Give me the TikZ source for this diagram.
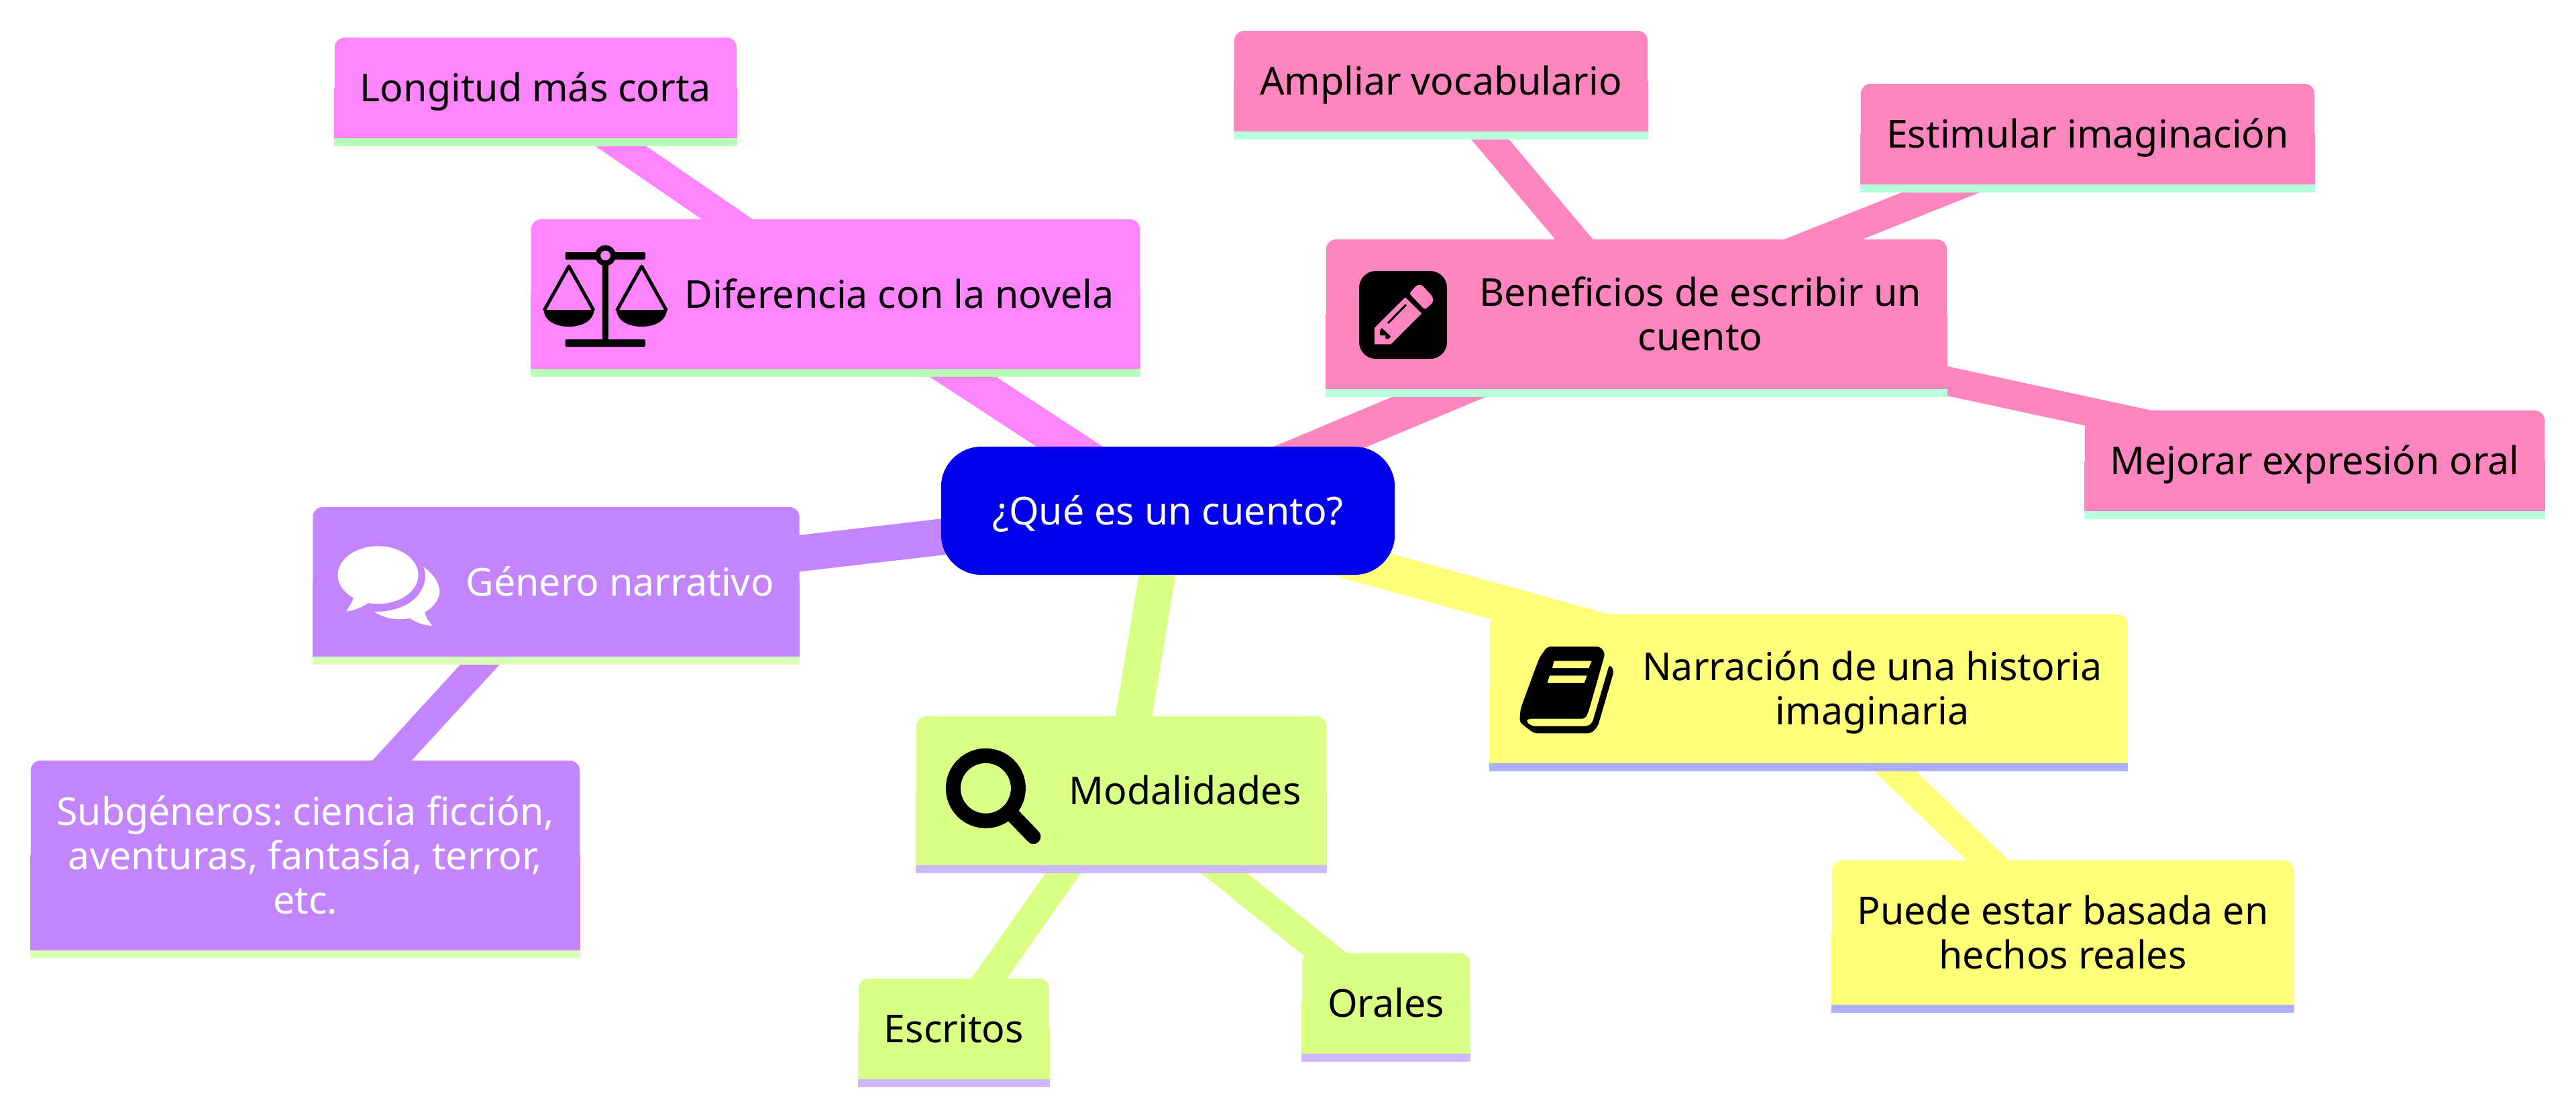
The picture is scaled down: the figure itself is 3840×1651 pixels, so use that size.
\documentclass[tikz,border=0pt]{standalone}
\usepackage{fontspec}
\setmainfont{Noto Sans}
\usetikzlibrary{backgrounds}
\frenchspacing

\definecolor{rootblue}{HTML}{0000EB}
\definecolor{difpink}{HTML}{FF85FF}
\definecolor{benrose}{HTML}{FF85BF}
\definecolor{genviolet}{HTML}{C285FF}
\definecolor{modlime}{HTML}{D9FF85}
\definecolor{naryellow}{HTML}{FFFF78}
\definecolor{difband}{HTML}{B8FFB8}
\definecolor{benband}{HTML}{B8FFDC}
\definecolor{genband}{HTML}{DCFFB8}
\definecolor{modband}{HTML}{CEB8FF}
\definecolor{narband}{HTML}{AEAEFF}

\newcommand{\boxlabel}[2][0cm]{\hspace*{#1}\raisebox{-.08cm}[\height][\depth]{\begin{tabular}{@{}c@{}}#2\end{tabular}}}

\tikzset{
    mapbox/.style={rounded corners=.15cm,inner sep=0pt,font=\fontsize{16.3pt}{18.8pt}\selectfont},
    iconline/.style={line width=.05cm,line join=round}
}

\begin{document}
\begin{tikzpicture}[x=.01cm,y=-.01cm]
    \useasboundingbox (0,0) rectangle (3840,1651);

    \node [mapbox,fill=rootblue,text=white,rounded corners=.6cm,minimum width=6.76cm,minimum height=1.91cm] (root) at (1741,761.5) {\boxlabel{¿Qué es un cuento?}};

    \node [mapbox,fill=difpink,minimum width=9.07cm,minimum height=2.22cm] (dif) at (1245.5,438) {\boxlabel[1.9cm]{Diferencia con la novela}};
    \node [mapbox,fill=difpink,minimum width=5.99cm,minimum height=1.49cm] (lon) at (798.5,130.5) {\boxlabel{Longitud más corta}};

    \node [mapbox,fill=benrose,minimum width=9.25cm,minimum height=2.22cm] (ben) at (2439.5,468) {\boxlabel[1.9cm]{Beneficios de escribir un\\cuento}};
    \node [mapbox,fill=benrose,minimum width=6.16cm,minimum height=1.49cm] (amp) at (2148,120.5) {\boxlabel{Ampliar vocabulario}};
    \node [mapbox,fill=benrose,minimum width=6.76cm,minimum height=1.49cm] (est) at (3112,199.5) {\boxlabel{Estimular imaginación}};
    \node [mapbox,fill=benrose,minimum width=6.85cm,minimum height=1.49cm] (mej) at (3450.5,686.5) {\boxlabel{Mejorar expresión oral}};

    \node [mapbox,fill=genviolet,text=white,minimum width=7.25cm,minimum height=2.22cm] (gen) at (829,867) {\boxlabel[1.9cm]{Género narrativo}};
    \node [mapbox,fill=genviolet,text=white,minimum width=8.18cm,minimum height=2.82cm] (sub) at (455,1275) {\boxlabel{Subgéneros: ciencia ficción,\\aventuras, fantasía, terror,\\etc.}};

    \node [mapbox,fill=modlime,minimum width=6.11cm,minimum height=2.21cm] (mod) at (1671.5,1178.5) {\boxlabel[1.9cm]{Modalidades}};
    \node [mapbox,fill=modlime,minimum width=2.84cm,minimum height=1.49cm] (esc) at (1422,1533.5) {\boxlabel{Escritos}};
    \node [mapbox,fill=modlime,minimum width=2.5cm,minimum height=1.49cm] (ora) at (2066,1495.5) {\boxlabel{Orales}};

    \node [mapbox,fill=naryellow,minimum width=9.5cm,minimum height=2.21cm] (nar) at (2696,1026.5) {\boxlabel[1.9cm]{Narración de una historia\\imaginaria}};
    \node [mapbox,fill=naryellow,minimum width=6.88cm,minimum height=2.14cm] (pue) at (3075,1390) {\boxlabel{Puede estar basada en\\hechos reales}};

    \begin{scope}[on background layer]
        \foreach \src/\dst/\boxcol/\edgewidth in {root/dif/difpink/.54cm,root/ben/benrose/.54cm,root/gen/genviolet/.54cm,root/mod/modlime/.54cm,root/nar/naryellow/.54cm,dif/lon/difpink/.43cm,ben/amp/benrose/.43cm,ben/est/benrose/.43cm,ben/mej/benrose/.43cm,gen/sub/genviolet/.43cm,mod/esc/modlime/.43cm,mod/ora/modlime/.43cm,nar/pue/naryellow/.43cm}
            \draw [\boxcol,line width=\edgewidth] (\src.center) -- (\dst.center);

        \foreach \name/\boxcol/\bandcol in {dif/difpink/difband,lon/difpink/difband,ben/benrose/benband,amp/benrose/benband,est/benrose/benband,mej/benrose/benband,gen/genviolet/genband,sub/genviolet/genband,mod/modlime/modband,esc/modlime/modband,ora/modlime/modband,nar/naryellow/narband,pue/naryellow/narband}{
            \fill [\boxcol] (\name.west) rectangle (\name.south east);
            \fill [\bandcol] (\name.south west) rectangle ([yshift=-.12cm]\name.south east);
        }
    \end{scope}

    % scales
    \fill [rounded corners=.02cm] (842.5,376) rectangle (962,387);
    \fill [rounded corners=.02cm] (842.5,506) rectangle (962,517);
    \fill (897.6,381) rectangle (907.4,507);
    \draw [line width=.08cm,fill=difpink] (902.5,381) circle [radius=.115cm];
    \foreach \panx in {848,956.5}{
        \draw [iconline] (\panx-37,463) -- (\panx,397) -- (\panx+37,463);
        \fill (\panx-37.5,462) .. controls (\panx-37,478) and (\panx-20,487) .. (\panx,487) .. controls (\panx+20,487) and (\panx+37,478) .. (\panx+37.5,462) -- cycle;
    }

    % pencil
    \fill [rounded corners=.25cm] (2026,404) rectangle (2157,535);
    \fill [benrose] (2048.8,489) -- (2094.7,443.3) -- (2119.2,467.3) -- (2073.3,513.3) -- (2048.8,513.3) -- cycle;
    \fill [benrose,rounded corners=.03cm] (2100.8,437.7) -- (2112,425) -- (2120,425) -- (2136,443) -- (2136,451) -- (2124,461.7) -- cycle;
    \draw [line width=.03cm] (2096,454.3) -- (2069,481.7);
    \fill (2056.8,493.3) -- (2059.8,489) -- (2073.3,501.7) -- (2070,505) -- (2065.3,505) -- (2065.3,500) -- (2056.8,500) -- cycle;

    % speech bubbles
    \fill [white] (563.5,857.3) ellipse [x radius=.6cm,y radius=.43cm];
    \fill [white] (526.7,891.7) .. controls (525,900) and (518,906) .. (516.5,911.7) .. controls (528,910) and (540,905) .. (548.7,899.3) -- cycle;
    \fill [white] (631.3,845) .. controls (648,858) and (655,870) .. (655.3,882) .. controls (655,895) and (645,906) .. (633,913) .. controls (635,922) and (641,928) .. (644,933) .. controls (630,932) and (620,928) .. (611,921.7) .. controls (590,926) and (572,921) .. (557.3,912) .. controls (590,913) and (618,900) .. (628,880) .. controls (636,865) and (635,855) .. (631.3,845) -- cycle;

    % magnifier
    \draw [line width=.22cm] (1469.4,1175.3) circle [radius=.485cm];
    \draw [line width=.22cm,line cap=round] (1511,1216.7) -- (1540.4,1247.3);

    % book
    \fill [rounded corners=.05cm] (2306.7,964) -- (2385,964) -- (2392.7,974) -- (2368.3,1060) -- (2363.3,1071.7) -- (2277.3,1071.7) -- (2274,1075) -- (2283.3,1082.7) -- (2366.7,1082.7) -- (2373.3,1078.3) -- (2399.3,990) -- (2406,1000) -- (2381.7,1083.3) -- (2371.7,1093.3) -- (2286.7,1093.3) -- (2265,1076.7) -- (2266.7,1056.7) -- (2285,1006.7) -- (2295,980) -- cycle;
    \fill [naryellow] (2316.7,985.3) -- (2372.7,985.3) -- (2368.3,996) -- (2314,996) -- cycle;
    \fill [naryellow] (2310,1007.3) -- (2365.7,1007.3) -- (2361.7,1018) -- (2306.7,1018) -- cycle;
\end{tikzpicture}
\end{document}
